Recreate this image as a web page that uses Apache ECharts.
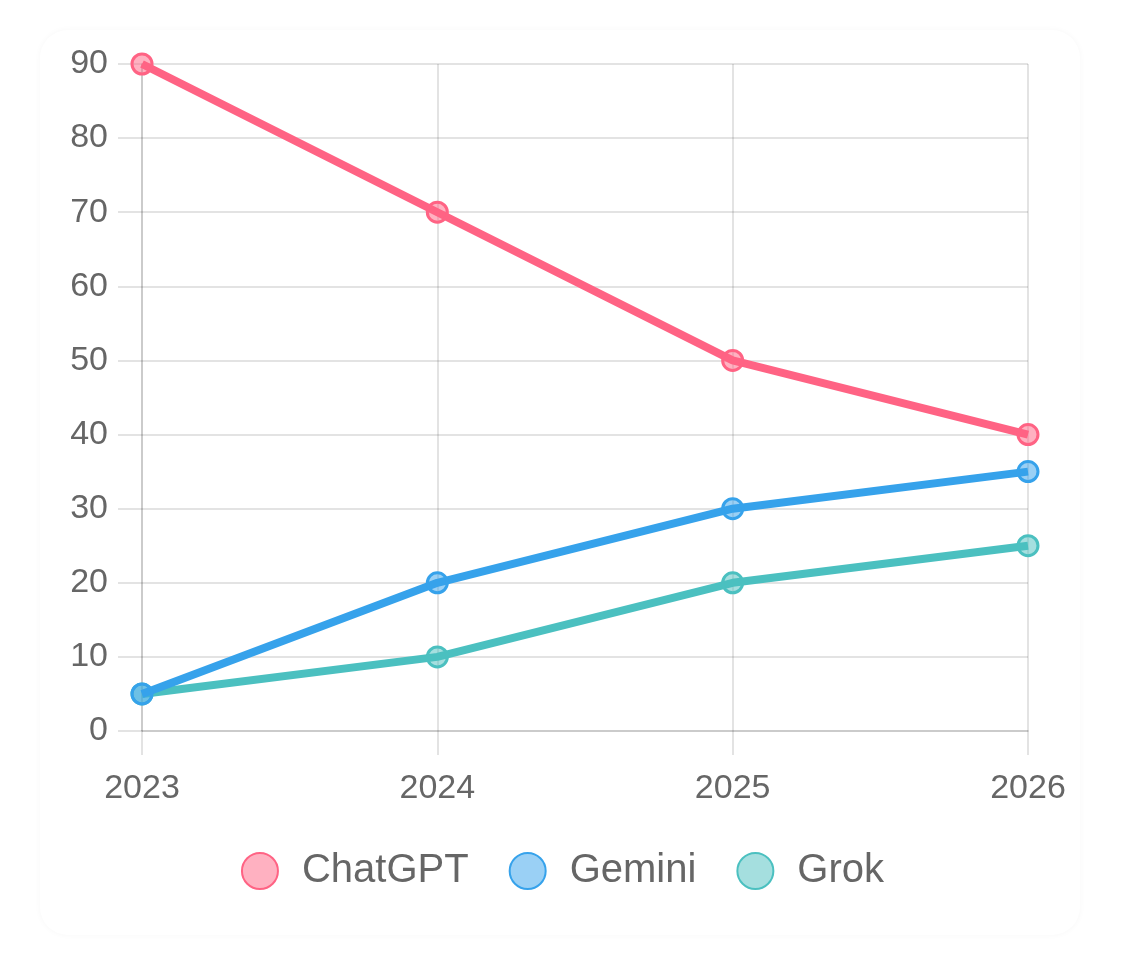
<!DOCTYPE html>
<html lang="en">
<head>
<meta charset="UTF-8">
<title>ChatGPT / Gemini / Grok</title>
<script src="https://cdn.jsdelivr.net/npm/echarts@6/dist/echarts.min.js"></script>
<style>
  html, body { margin: 0; padding: 0; background: #fff; }
  #card {
    position: absolute; left: 40px; top: 30px; width: 1040px; height: 905px;
    border-radius: 28px; box-shadow: 0 0 6px rgba(0,0,0,0.035);
  }
  #main { position: absolute; left: 0; top: 0; width: 1125px; height: 956px; }
</style>
</head>
<body>
<div id="card"></div>
<div id="main"></div>
<script type="text/javascript">
// data
var years = ['2023', '2024', '2025', '2026'];
var chatgpt = [90, 70, 50, 40];
var gemini = [5, 20, 30, 35];
var grok = [5, 10, 20, 25];

var names = ['ChatGPT', 'Gemini', 'Grok'];
var lines = ['#ff6384', '#36a2eb', '#4bc0c0'];
var fills = ['rgba(255,99,132,0.5)', 'rgba(54,162,235,0.5)', 'rgba(75,192,192,0.5)'];
var values = [chatgpt, gemini, grok];

var gridColor = 'rgba(0,0,0,0.11)';
var font = '"Liberation Sans", Arial, sans-serif';

var myChart = echarts.init(document.getElementById('main'));

var series = names.map(function (n, i) {
    return {
        name: n,
        type: 'line',
        data: values[i],
        symbol: 'circle',
        symbolSize: 20,
        lineStyle: { color: lines[i], width: 8 },
        itemStyle: { color: fills[i], borderColor: lines[i], borderWidth: 3 },
        emphasis: { disabled: true },
        z: 3 - i
    };
});

myChart.setOption({
    animation: false,
    grid: { left: 142, right: 97, top: 64, bottom: 225, containLabel: false },
    legend: {
        top: 846,
        left: 'center',
        icon: 'circle',
        itemWidth: 36,
        itemHeight: 36,
        itemGap: 40,
        textStyle: { fontSize: 40, color: '#666', fontFamily: font, padding: [0, 0, 0, 19] },
        data: names.map(function (n, i) {
            return { name: n, itemStyle: { color: fills[i], borderColor: lines[i], borderWidth: 2 } };
        })
    },
    xAxis: {
        type: 'category',
        data: years,
        boundaryGap: false,
        axisLine: { show: true, lineStyle: { color: gridColor, width: 2 } },
        axisTick: { show: true, length: 24, alignWithLabel: true, lineStyle: { color: gridColor, width: 2 } },
        axisLabel: { fontSize: 34, color: '#666', fontFamily: font, margin: 41 },
        splitLine: { show: true, lineStyle: { color: gridColor, width: 2 } }
    },
    yAxis: {
        type: 'value',
        min: 0,
        max: 90,
        interval: 10,
        axisLine: { show: true, lineStyle: { color: gridColor, width: 2 } },
        axisTick: { show: true, length: 24, lineStyle: { color: gridColor, width: 2 } },
        axisLabel: { fontSize: 34, color: '#666', fontFamily: font, margin: 34 },
        splitLine: { show: true, lineStyle: { color: gridColor, width: 2 } }
    },
    series: series
});
</script>
</body>
</html>
